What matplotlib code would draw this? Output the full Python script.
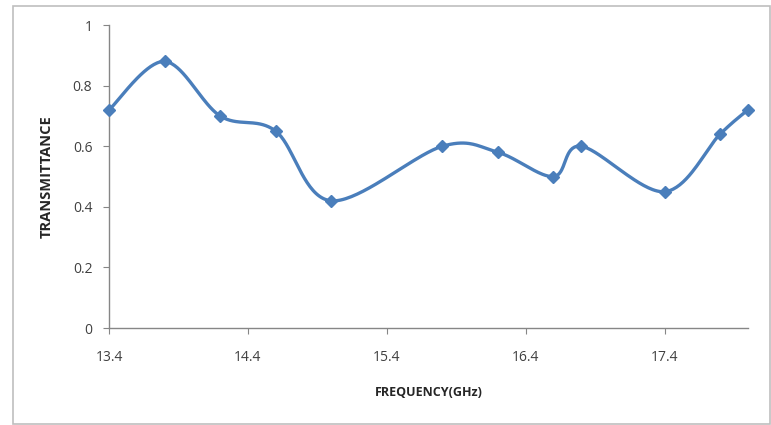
import numpy as np
import matplotlib
matplotlib.use("Agg")
import matplotlib.pyplot as plt
from matplotlib.patches import Rectangle

# Data
freq = [13.4, 13.8, 14.2, 14.6, 15.0, 15.8, 16.2, 16.6, 16.8, 17.4, 17.8, 18.0]
trans = [0.72, 0.88, 0.70, 0.65, 0.42, 0.60, 0.58, 0.50, 0.60, 0.45, 0.64, 0.72]
xticks = [13.4, 14.4, 15.4, 16.4, 17.4]
yticks = [0, 0.2, 0.4, 0.6, 0.8, 1]

line_color = "#4A7EBB"
axis_color = "#868686"
font = "Open Sans"

fig = plt.figure(figsize=(7.71, 4.25), dpi=100)
ax = fig.add_axes([0.1414, 0.2282, 0.8286, 0.7128])
ax.set_xlim(13.4, 18.0)
ax.set_ylim(0, 1)

# Excel-style smoothed line: Catmull-Rom Bezier done in pixel space
w_px, h_px = 0.8286 * 771, 0.7128 * 425
px = (np.array(freq) - 13.4) / 4.6 * w_px
py = np.array(trans) * h_px
P = np.column_stack([px, py])
Pext = np.vstack([P[0], P, P[-1]])
curve = []
t = np.linspace(0, 1, 40)[:, None]
for i in range(1, len(Pext) - 2):
    p0, p1, p2, p3 = Pext[i - 1], Pext[i], Pext[i + 1], Pext[i + 2]
    c1 = p1 + (p2 - p0) / 6
    c2 = p2 - (p3 - p1) / 6
    seg = ((1 - t) ** 3) * p1 + 3 * ((1 - t) ** 2) * t * c1 + 3 * (1 - t) * t ** 2 * c2 + t ** 3 * p2
    curve.append(seg)
curve = np.vstack(curve)
cx = curve[:, 0] / w_px * 4.6 + 13.4
cy = curve[:, 1] / h_px

ax.plot(cx, cy, color=line_color, linewidth=2.4, clip_on=False, zorder=3)
ax.plot(freq, trans, linestyle="none", marker="D", markersize=6,
        color=line_color, clip_on=False, zorder=4)

ax.set_xticks(xticks)
ax.set_xticklabels([str(v) for v in xticks])
ax.set_yticks(yticks)
ax.set_yticklabels(["0", "0.2", "0.4", "0.6", "0.8", "1"])

for s in ["top", "right"]:
    ax.spines[s].set_visible(False)
for s in ["left", "bottom"]:
    ax.spines[s].set_color(axis_color)
    ax.spines[s].set_linewidth(1)

ax.tick_params(axis="both", direction="out", length=4, color=axis_color,
               labelsize=10, labelcolor="#404040")
ax.tick_params(axis="x", pad=12)
ax.tick_params(axis="y", pad=8)
for lab in ax.get_xticklabels() + ax.get_yticklabels():
    lab.set_family(font)

ax.set_xlabel("FREQUENCY(GHz)", fontsize=9, fontweight="bold",
              family=font, color="#262626", labelpad=15)
ax.set_ylabel("TRANSMITTANCE", fontsize=10.5, fontweight="bold",
              family=font, color="#262626", labelpad=14)

# light chart border
fig.patches.append(Rectangle((13 / 771, 1 / 425), 757 / 771, 418 / 425,
                             transform=fig.transFigure, fill=False,
                             edgecolor="#BFBFBF", linewidth=1.2))

plt.savefig("out.png", dpi=100)
